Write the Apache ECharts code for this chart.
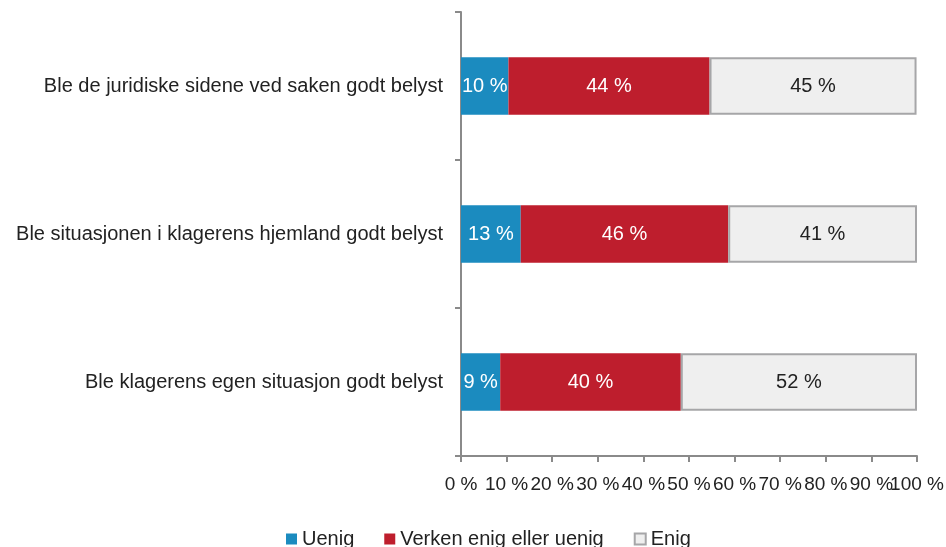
<!DOCTYPE html>
<html>
<head>
<meta charset="utf-8">
<script src="https://cdn.jsdelivr.net/npm/echarts@6/dist/echarts.min.js"></script>
<style>
html,body{margin:0;padding:0;background:#fff;}
#chart{width:946px;height:547px;}
</style>
</head>
<body>
<div id="chart"></div>
<script>
var categories = ['Ble de juridiske sidene ved saken godt belyst', 'Ble situasjonen i klagerens hjemland godt belyst', 'Ble klagerens egen situasjon godt belyst']
var uenig = [10.4, 13.1, 8.6]
var verken = [44.1, 45.5, 39.6]
var enig = [45.4, 41.4, 51.8]
var series_names = ['Uenig', 'Verken enig eller uenig', 'Enig']

var font = 'Liberation Sans, Arial, sans-serif'
var fs = 20

function pct_label(p){
	return Math.round(p.value) + ' %'
}

// the 100 % label sits on its own overlay axis so that the overlap check keeps the 90 % label
var x_label = {fontSize:19, color:'#222', margin:19, fontFamily:font, hideOverlap:false}
var x_tick = {show:true, length:6, lineStyle:{color:'#8a8a8a', width:2}}

var my_chart = echarts.init(document.getElementById('chart'))
my_chart.setOption({
	animation:false,
	textStyle:{fontFamily:font},
	grid:{left:461, right:29, top:12, bottom:91, containLabel:false, outerBoundsMode:'none'},
	legend:{
		top:524,
		left:281,
		itemWidth:11,
		itemHeight:11,
		itemGap:30,
		icon:'rect',
		textStyle:{fontSize:fs, color:'#222', fontFamily:font},
		data:series_names
	},
	xAxis:[{
		type:'value',
		min:0,
		max:100,
		interval:10,
		splitLine:{show:false},
		axisLine:{show:true, lineStyle:{color:'#8a8a8a', width:2}},
		axisTick:x_tick,
		axisLabel:Object.assign({formatter:'{value} %', showMinLabel:true, showMaxLabel:false}, x_label)
	},
	{
		type:'value',
		position:'bottom',
		min:0,
		max:100,
		interval:10,
		splitLine:{show:false},
		axisLine:{show:false},
		axisTick:x_tick,
		axisLabel:Object.assign({showMaxLabel:true, formatter:function(v){ return v == 100 ? v + ' %' : '' }}, x_label)
	}],
	yAxis:{
		type:'category',
		inverse:true,
		data:categories,
		axisLine:{lineStyle:{color:'#8a8a8a', width:2}},
		axisTick:{show:true, length:6, lineStyle:{color:'#8a8a8a', width:2}},
		axisLabel:{fontSize:fs, color:'#222', margin:18, fontFamily:font, padding:[4, 0, 0, 0]}
	},
	series:[{
		name:series_names[0],
		type:'bar',
		stack:'s',
		barWidth:'39%',
		data:uenig,
		itemStyle:{color:'#1b8bbf'},
		label:{show:true, position:'inside', color:'#fff', fontSize:fs, formatter:pct_label, fontFamily:font}
	},
	{
		name:series_names[1],
		type:'bar',
		stack:'s',
		data:verken,
		itemStyle:{color:'#be1e2d'},
		label:{show:true, position:'inside', color:'#fff', fontSize:fs, formatter:pct_label, fontFamily:font}
	},
	{
		name:series_names[2],
		type:'bar',
		stack:'s',
		data:enig,
		itemStyle:{color:'#efefef', borderColor:'#a6a6a8', borderWidth:2},
		label:{show:true, position:'inside', color:'#222', fontSize:fs, formatter:pct_label, fontFamily:font}
	}]
})
</script>
</body>
</html>
